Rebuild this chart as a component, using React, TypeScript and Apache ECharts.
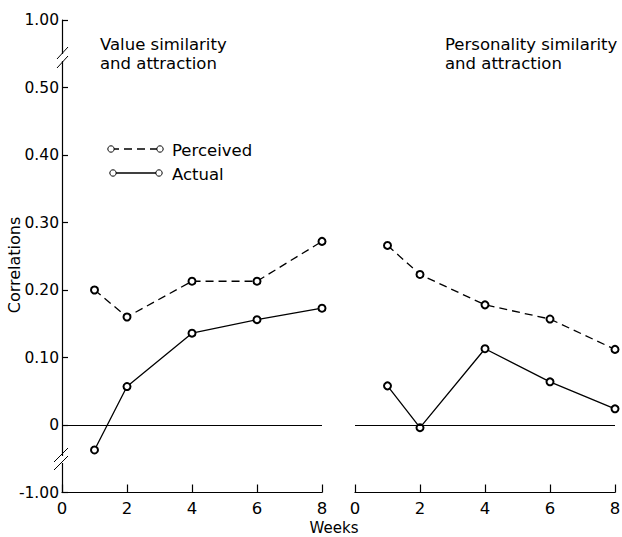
import React, { useEffect, useRef } from "react";
import * as echarts from "echarts";

const weeks = [1, 2, 4, 6, 8];
const valuePerceived = [0.2, 0.16, 0.213, 0.213, 0.272];
const valueActual = [-0.037, 0.057, 0.136, 0.156, 0.173];
const personalityPerceived = [0.266, 0.223, 0.178, 0.157, 0.112];
const personalityActual = [0.058, -0.004, 0.113, 0.064, 0.024];
const yTickValues = [-1.0, 0, 0.1, 0.2, 0.3, 0.4, 0.5, 1.0];
const xTickValues = [0, 2, 4, 6, 8];
const titles = ["Value similarity\nand attraction", "Personality similarity\nand attraction"];
const legendNames = ["Perceived", "Actual"];
const yAxisName = "Correlations";
const xAxisName = "Weeks";

// broken axis: 0.5..1.0 compressed, -0.05..-1.0 compressed
const toAxis = (v: number) => {
  if (v > 0.5) return 0.5 + (v - 0.5) * 0.2;
  if (v < -0.05) return -0.05 + (v + 0.05) * (0.05 / 0.95);
  return v;
};

const FONT = "DejaVu Sans";
const FS = 16.5;

export default function App() {
  const ref = useRef<HTMLDivElement>(null);
  useEffect(() => {
    if (!ref.current) return;
    const chart = echarts.init(ref.current, null, { renderer: "svg" });
    const yPos = yTickValues.map(toAxis);
    const fmtY = (a: number) => {
      const i = yPos.findIndex((p) => Math.abs(p - a) < 1e-6);
      if (i < 0) return "";
      const v = yTickValues[i];
      return v === 0 ? "0" : v.toFixed(2);
    };
    const lineSeries = (name: string, vals: number[], idx: number, dashed: boolean) => ({
      name,
      type: "line",
      xAxisIndex: idx,
      yAxisIndex: idx,
      data: weeks.map((w, i) => [w, toAxis(vals[i])]),
      symbol: "emptyCircle",
      symbolSize: 7,
      itemStyle: { color: "#000", borderColor: "#000", borderWidth: 1 },
      lineStyle: { color: "#000", width: 1.3, type: dashed ? [8, 5] : "solid" },
      z: 3,
    });
    const zeroLine = {
      silent: true,
      symbol: "none",
      label: { show: false },
      lineStyle: { color: "#000", width: 1, type: "solid" },
      data: [{ yAxis: 0 }],
    };
    const yMin = toAxis(-1.0);
    const yMax = toAxis(1.0);
    const xAxisBase = {
      type: "value",
      min: xTickValues[0],
      max: xTickValues[xTickValues.length - 1],
      interval: 2,
      axisLine: { show: true, onZero: false, lineStyle: { color: "#000", width: 1.2 } },
      axisTick: { show: true, inside: true, length: 8, lineStyle: { color: "#000", width: 1.2 } },
      axisLabel: { color: "#000", fontFamily: FONT, fontSize: FS, margin: 7 },
      splitLine: { show: false },
    };
    const circle = (cx: number, cy: number) => ({
      type: "circle",
      shape: { cx, cy, r: 3.2 },
      style: { fill: "#fff", stroke: "#000", lineWidth: 1 },
      z: 101,
    });
    const titleStyle = { fontFamily: FONT, fontSize: FS, fontWeight: "normal", color: "#000", lineHeight: 19 };
    chart.setOption({
      animation: false,
      backgroundColor: "#fff",
      title: [
        { text: titles[0], left: 95, top: 30, textStyle: titleStyle },
        { text: titles[1], left: 440, top: 30, textStyle: titleStyle },
      ],
      grid: [
        { left: 62, width: 260, top: 20, height: 472.5, outerBoundsMode: "none", containLabel: false },
        { left: 355, width: 260, top: 20, height: 472.5, outerBoundsMode: "none", containLabel: false },
      ],
      xAxis: [
        { ...xAxisBase, gridIndex: 0 },
        { ...xAxisBase, gridIndex: 1 },
      ],
      yAxis: [
        {
          type: "value",
          gridIndex: 0,
          min: yMin,
          max: yMax,
          axisLine: { show: true, lineStyle: { color: "#000", width: 1.2 } },
          axisTick: { show: true, inside: true, length: 6, customValues: yPos, lineStyle: { color: "#000", width: 1.2 } },
          axisLabel: { show: true, customValues: yPos, formatter: fmtY, color: "#000", fontFamily: FONT, fontSize: 15.5, margin: 3 },
          splitLine: { show: false },
        },
        { type: "value", gridIndex: 1, min: yMin, max: yMax, show: false, splitLine: { show: false } },
      ],
      series: [
        { ...lineSeries(legendNames[0], valuePerceived, 0, true), markLine: zeroLine },
        lineSeries(legendNames[1], valueActual, 0, false),
        { ...lineSeries(legendNames[0], personalityPerceived, 1, true), markLine: zeroLine },
        lineSeries(legendNames[1], personalityActual, 1, false),
      ],
      graphic: [
        // axis break marks
        { type: "rect", shape: { x: 58, y: 54, width: 8, height: 7 }, style: { fill: "#fff" }, z: 100 },
        { type: "line", shape: { x1: 57, y1: 59, x2: 68, y2: 47 }, style: { stroke: "#000", lineWidth: 1 }, z: 101 },
        { type: "line", shape: { x1: 57, y1: 68, x2: 68, y2: 56 }, style: { stroke: "#000", lineWidth: 1 }, z: 101 },
        { type: "rect", shape: { x: 58, y: 456, width: 8, height: 7 }, style: { fill: "#fff" }, z: 100 },
        { type: "line", shape: { x1: 54, y1: 462, x2: 68, y2: 448 }, style: { stroke: "#000", lineWidth: 1 }, z: 101 },
        { type: "line", shape: { x1: 54, y1: 470, x2: 68, y2: 456 }, style: { stroke: "#000", lineWidth: 1 }, z: 101 },
        // legend
        { type: "line", shape: { x1: 111, y1: 149, x2: 160, y2: 149 }, style: { stroke: "#000", lineWidth: 1.3, lineDash: [8, 5] }, z: 100 },
        circle(111, 149),
        circle(160, 149),
        { type: "text", x: 172, y: 150, style: { text: legendNames[0], fontFamily: FONT, fontSize: FS, fill: "#000", verticalAlign: "middle" }, z: 101 },
        { type: "line", shape: { x1: 113, y1: 173, x2: 159, y2: 173 }, style: { stroke: "#000", lineWidth: 1.3 }, z: 100 },
        circle(113, 173),
        circle(159, 173),
        { type: "text", x: 172, y: 174, style: { text: legendNames[1], fontFamily: FONT, fontSize: FS, fill: "#000", verticalAlign: "middle" }, z: 101 },
        // axis names
        { type: "text", x: 334, y: 528, style: { text: xAxisName, fontFamily: FONT, fontSize: 15, fill: "#000", align: "center", verticalAlign: "middle" }, z: 101 },
        { type: "text", x: 14, y: 265, rotation: Math.PI / 2, style: { text: yAxisName, fontFamily: FONT, fontSize: 16, fill: "#000", align: "center", verticalAlign: "middle" }, z: 101 },
      ],
    });
    return () => chart.dispose();
  }, []);
  return <div ref={ref} style={{ width: 622, height: 537, position: "absolute", left: 0, top: 0 }} />;
}
